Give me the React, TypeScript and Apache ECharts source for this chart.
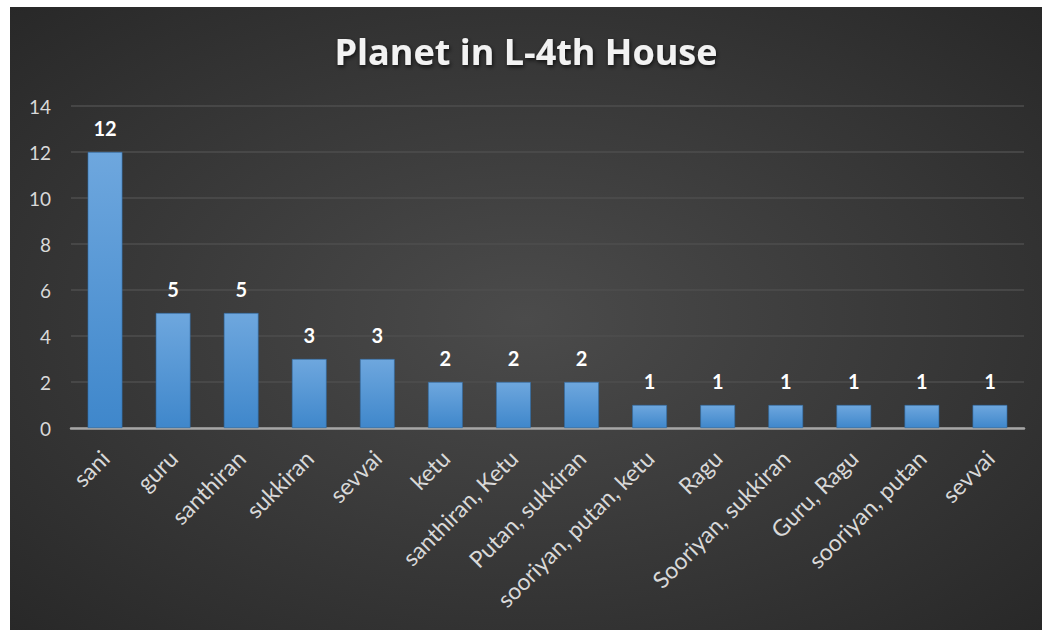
import React, { useEffect, useRef } from "react";
import * as echarts from "echarts";

const categories = [
  "sani",
  "guru",
  "santhiran",
  "sukkiran",
  "sevvai",
  "ketu",
  "santhiran, Ketu",
  "Putan, sukkiran",
  "sooriyan, putan, ketu",
  "Ragu",
  "Sooriyan, sukkiran",
  "Guru, Ragu",
  "sooriyan, putan",
  "sevvai",
];
const counts = [12, 5, 5, 3, 3, 2, 2, 2, 1, 1, 1, 1, 1, 1];
const yTicks = { min: 0, max: 14, interval: 2 };
const title = "Planet in L-4th House";

export default function App() {
  const ref = useRef<HTMLDivElement>(null);
  useEffect(() => {
    if (!ref.current) return;
    const chart = echarts.init(ref.current, undefined, { renderer: "svg" });
    chart.setOption({
      animation: false,
      backgroundColor: {
        type: "radial",
        x: 0.5,
        y: 0.5,
        r: 0.75,
        colorStops: [
          { offset: 0, color: "#4b4b4b" },
          { offset: 1, color: "#262626" },
        ],
      },
      title: {
        text: title,
        left: "center",
        top: 21,
        textStyle: {
          color: "#f2f2f2",
          fontFamily: "Open Sans",
          fontWeight: "bold",
          fontSize: 36,
          textShadowColor: "rgba(0,0,0,0.7)",
          textShadowBlur: 4,
          textShadowOffsetX: 1,
          textShadowOffsetY: 2,
        },
      },
      grid: { left: 61, right: 18, top: 99, bottom: 202, containLabel: false },
      xAxis: {
        type: "category",
        data: categories,
        axisLine: { lineStyle: { color: "#a6a6a6", width: 2.5 } },
        axisTick: { show: false },
        axisLabel: {
          rotate: 45,
          interval: 0,
          color: "#d9d9d9",
          fontFamily: "Lato",
          fontSize: 23,
          margin: 26,
        },
      },
      yAxis: {
        type: "value",
        min: yTicks.min,
        max: yTicks.max,
        interval: yTicks.interval,
        axisLine: { show: false },
        axisTick: { show: false },
        axisLabel: {
          color: "#d9d9d9",
          fontFamily: "Lato",
          fontSize: 19,
          margin: 20,
        },
        splitLine: { lineStyle: { color: "#4e4e4e", width: 1.5 } },
      },
      series: [
        {
          type: "bar",
          data: counts,
          barWidth: "51%",
          itemStyle: {
            color: {
              type: "linear",
              x: 0,
              y: 0,
              x2: 0,
              y2: 1,
              colorStops: [
                { offset: 0, color: "#6ea7de" },
                { offset: 1, color: "#3f87cb" },
              ],
            },
            borderColor: "#2f6aa3",
            borderWidth: 0.6,
          },
          label: {
            show: true,
            position: "top",
            distance: 14,
            color: "#ffffff",
            fontFamily: "Lato",
            fontWeight: "bold",
            fontSize: 20,
          },
        },
      ],
    });
    return () => chart.dispose();
  }, []);
  return (
    <div
      ref={ref}
      style={{ position: "absolute", left: 10, top: 7, width: 1032, height: 623 }}
    />
  );
}
